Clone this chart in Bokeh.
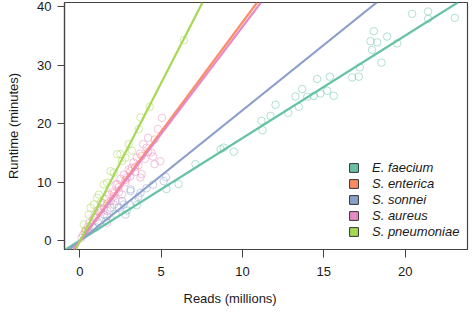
from bokeh.plotting import figure
from bokeh.models import Range1d, Slope, Legend, LegendItem, FixedTicker, Title
from bokeh.embed import file_html
from bokeh.resources import INLINE

species = ["E. faecium", "S. enterica", "S. sonnei", "S. aureus", "S. pneumoniae"]
colors = ["#66C2A5", "#FC8D62", "#8DA0CB", "#E78AC3", "#A6D854"]
slopes = [1.75, 3.74, 2.23, 3.66, 5.41]
intercepts = [0.05, -0.05, 0.0, -0.04, -0.10]

x_ef = [1.0, 1.6, 2.2, 2.9, 3.5, 5.33, 6.07, 7.11, 8.65, 8.85, 9.47, 11.17, 11.23, 11.72, 12.03, 12.81,
        13.26, 13.46, 13.67, 13.98, 14.38, 14.59, 14.79, 15.21, 15.37, 15.61, 16.74, 17.15, 17.21, 17.87,
        17.97, 18.07, 18.28, 18.54, 18.89, 19.51, 20.43, 21.41, 21.41, 23.05]
y_ef = [2.3, 3.4, 4.6, 5.2, 6.1, 8.85, 9.7, 13.1, 15.65, 15.92, 15.24, 20.5, 18.9, 21.35, 23.24, 21.87,
        24.66, 22.89, 25.92, 24.61, 24.73, 27.64, 25.17, 25.63, 28.03, 24.78, 27.91, 28.03, 29.62, 34.08,
        32.6, 35.79, 33.9, 30.43, 34.88, 33.73, 38.77, 39.16, 37.9, 38.08]

x_se = [0.4, 0.9, 1.3, 1.7, 2.1, 2.4, 2.8, 3.1, 3.4, 3.8, 4.2, 4.6]
y_se = [1.8, 3.9, 5.3, 6.4, 8.1, 9.2, 10.4, 11.9, 12.6, 14.5, 15.2, 17.3]

x_ss = [0.5, 0.8, 1.1, 1.48, 1.68, 1.89, 2.09, 2.4, 2.6, 2.7, 2.81, 3.12, 3.12, 3.42, 3.6, 3.73, 4.1, 4.5, 5.16, 5.3]
y_ss = [1.6, 2.4, 3.2, 4.5, 4.2, 5.65, 6.2, 5.65, 6.8, 6.2, 4.5, 8.8, 8.5, 6.8, 7.5, 8.2, 9.0, 9.6, 10.2, 10.9]

x_sa = [0.1, 0.2, 0.3, 0.5, 0.6, 0.8, 0.9, 1.0, 1.1, 1.2, 1.3, 1.4, 1.5, 1.6, 1.7, 1.8, 1.9, 2.0, 2.1, 2.2,
        2.3, 2.4, 2.5, 2.6, 2.7, 2.8, 2.9, 3.0, 3.1, 3.2, 3.3, 3.4, 3.5, 3.6, 3.7, 3.8, 3.9, 4.0, 4.1,
        4.2, 4.4, 4.5, 4.6, 4.8, 4.95, 5.05, 1.68, 2.2, 3.73]
y_sa = [0.5, 1.0, 1.5, 2.4, 3.1, 3.6, 4.4, 4.0, 5.2, 4.8, 5.6, 6.5, 5.7, 7.2, 5.1, 7.9, 6.8, 8.3, 7.6, 9.6,
        9.7, 8.3, 10.6, 7.9, 11.3, 10.0, 10.8, 12.2, 11.0, 12.5, 13.4, 11.8, 14.2, 12.9, 14.9, 11.4, 16.5,
        14.0, 15.9, 17.6, 15.1, 14.4, 13.1, 19.1, 13.6, 21.0, 3.1, 6.8, 10.8]

x_sp = [0.25, 0.35, 0.55, 0.66, 0.86, 1.07, 1.17, 1.3, 1.48, 1.68, 1.89, 2.09, 2.3, 2.5, 2.6, 2.81,
        3.01, 3.2, 3.63, 3.73, 4.3, 6.4]
y_sp = [2.8, 1.9, 4.5, 5.65, 6.2, 7.36, 7.9, 6.6, 9.65, 9.93, 11.9, 11.64, 14.8, 14.8, 13.65, 14.2,
        16.5, 15.4, 19.07, 21.06, 22.9, 34.3]

xs = [x_ef, x_se, x_ss, x_sa, x_sp]
ys = [y_ef, y_se, y_ss, y_sa, y_sp]

x_ticks = [0, 5, 10, 15, 20]
y_ticks = [0, 10, 20, 30, 40]
x_lo, x_hi = -0.94, 23.83
y_lo, y_hi = -1.47, 40.70

FONT = "Liberation Sans"
AX = "#444444"
TXT = "#1a1a1a"
FS = "13px"
NAN = float("nan")

p = figure(width=472, height=316,
           x_range=Range1d(x_lo, x_hi), y_range=Range1d(y_lo, y_hi),
           output_backend="svg", toolbar_location=None,
           min_border_left=64, min_border_right=5, min_border_top=2, min_border_bottom=67)
p.xgrid.visible = False
p.ygrid.visible = False
p.outline_line_color = AX
p.outline_line_width = 1.2
p.background_fill_color = "white"
p.border_fill_color = "white"

xa = p.xaxis[0]
xa.ticker = FixedTicker(ticks=x_ticks)
xa.major_tick_out = 8
xa.major_tick_in = 0
xa.minor_tick_line_color = None
xa.axis_line_color = AX
xa.axis_line_width = 1.2
xa.major_tick_line_color = AX
xa.major_label_standoff = 9
xa.major_label_text_font = FONT
xa.major_label_text_font_size = FS
xa.major_label_text_color = TXT

ya = p.yaxis[0]
ya.ticker = FixedTicker(ticks=y_ticks)
ya.major_tick_out = 7
ya.major_tick_in = 0
ya.minor_tick_line_color = None
ya.axis_line_color = AX
ya.axis_line_width = 1.2
ya.major_tick_line_color = AX
ya.major_label_standoff = 6
ya.major_label_text_font = FONT
ya.major_label_text_font_size = FS
ya.major_label_text_color = TXT
ya.axis_label = "Runtime (minutes)"
ya.axis_label_text_font = FONT
ya.axis_label_text_font_style = "normal"
ya.axis_label_text_font_size = FS
ya.axis_label_text_color = TXT
ya.axis_label_standoff = 13

xtitle = Title(text="Reads (millions)", align="left", offset=119, standoff=20,
               text_font=FONT, text_font_style="normal", text_font_size=FS, text_color=TXT)
p.add_layout(xtitle, "below")

for x, y, c in zip(xs, ys, colors):
    p.scatter(x, y, size=7.5, marker="circle", fill_color=None, line_color=c, line_alpha=0.5, line_width=1)

for m, b, c in zip(slopes, intercepts, colors):
    p.add_layout(Slope(gradient=m, y_intercept=b, line_color=c, line_width=2.2))

items = []
for s, c in zip(species, colors):
    r = p.quad(left=[NAN], right=[NAN], top=[NAN], bottom=[NAN], fill_color=c, line_color="#333333", line_width=1)
    items.append(LegendItem(label=s, renderers=[r]))

legend = Legend(items=items, location=(284, 10), padding=0, margin=0, spacing=1,
                glyph_width=11, glyph_height=11, label_height=14, label_standoff=13,
                border_line_color=None, background_fill_alpha=0,
                label_text_font=FONT, label_text_font_style="italic",
                label_text_font_size=FS, label_text_color=TXT)
p.add_layout(legend, "center")

open("out.html", "w").write(file_html(p, INLINE))
